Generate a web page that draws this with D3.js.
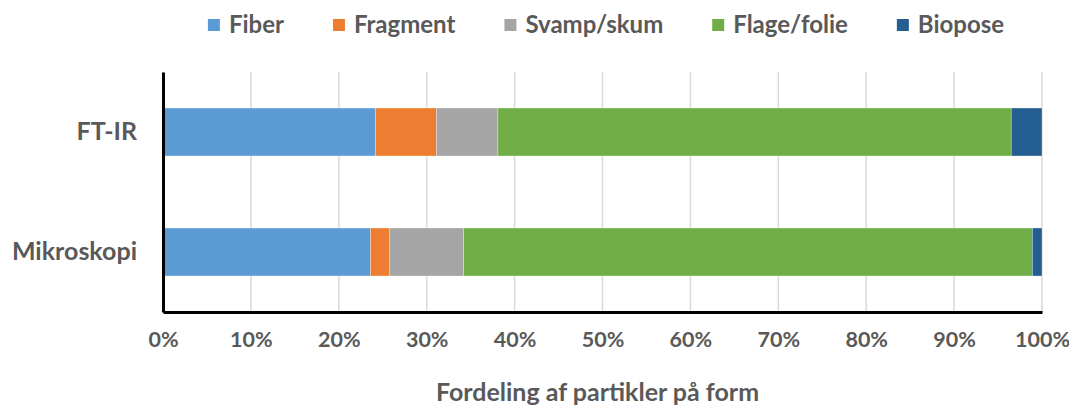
<!DOCTYPE html>
<html lang="en">
<head>
<meta charset="UTF-8">
<title>Fordeling af partikler på form</title>
<script src="https://d3js.org/d3.v7.min.js"></script>
<style>
    body { margin: 0; background: #fff; }
    text { font-family: 'Lato', 'Open Sans', sans-serif; font-weight: bold; fill: #595959; }
</style>
</head>
<body>
<div id="chart"></div>
<script>
    // Data (percent of particles)
    const categories = ["FT-IR", "Mikroskopi"];
    const seriesNames = ["Fiber", "Fragment", "Svamp/skum", "Flage/folie", "Biopose"];
    const seriesColors = ["#5b9bd5", "#ed7d31", "#a5a5a5", "#70ad47", "#255e91"];
    const fiber    = [24.2, 23.6];
    const fragment = [6.9, 2.2];
    const svamp    = [7.0, 8.4];
    const flage    = [58.4, 64.7];
    const biopose  = [3.5, 1.1];
    const xTicks = [0, 10, 20, 30, 40, 50, 60, 70, 80, 90, 100];
    const axisTitle = "Fordeling af partikler på form";

    const W = 1069, H = 406;
    const margin = {top: 72, right: 27, bottom: 94, left: 163};
    const width = W - margin.left - margin.right,
          height = H - margin.top - margin.bottom;

    const svg = d3.select("#chart").append("svg")
        .attr("width", W).attr("height", H);
    const g = svg.append("g")
        .attr("transform", `translate(${margin.left},${margin.top})`);

    // build table for stacking
    const seriesValues = [fiber, fragment, svamp, flage, biopose];
    const table = categories.map((c, i) => {
        const row = {cat: c};
        seriesNames.forEach((s, j) => row[s] = seriesValues[j][i]);
        return row;
    });
    const stacked = d3.stack().keys(seriesNames)(table);

    const x = d3.scaleLinear().domain([0, 100]).range([0, width]);
    const y = d3.scaleBand().domain(categories).range([0, height])
        .paddingInner(0.6).paddingOuter(0.3);
    const color = d3.scaleOrdinal().domain(seriesNames).range(seriesColors);

    // gridlines
    g.append("g")
        .selectAll("line")
        .data(xTicks)
        .join("line")
        .attr("x1", d => x(d)).attr("x2", d => x(d))
        .attr("y1", 0).attr("y2", height)
        .attr("stroke", "#d9d9d9")
        .attr("stroke-width", 1.5);

    // bars
    g.append("g")
        .selectAll("g")
        .data(stacked)
        .join("g")
        .attr("fill", d => color(d.key))
        .selectAll("rect")
        .data(d => d)
        .join("rect")
        .attr("x", d => x(d[0]))
        .attr("width", d => x(d[1]) - x(d[0]))
        .attr("y", d => y(d.data.cat))
        .attr("height", y.bandwidth())
        .attr("stroke", "#ffffff")
        .attr("stroke-opacity", 0.5)
        .attr("stroke-width", 0.6);

    // x axis
    const xAxis = g.append("g")
        .attr("transform", `translate(0,${height})`)
        .call(d3.axisBottom(x).tickValues(xTicks).tickFormat(d => d + "%").tickSize(0).tickPadding(20));
    xAxis.select(".domain").attr("stroke", "#000").attr("stroke-width", 3);
    xAxis.selectAll("text")
        .style("font-size", "21.5px")
        .attr("fill", "#595959");

    // y axis
    const yAxis = g.append("g")
        .call(d3.axisLeft(y).tickSize(0).tickPadding(26));
    yAxis.select(".domain").attr("stroke", "#000").attr("stroke-width", 3);
    yAxis.selectAll("text")
        .style("font-size", "25px")
        .attr("fill", "#595959");

    // axis title
    svg.append("text")
        .attr("x", margin.left + width / 2 - 5)
        .attr("y", 401)
        .attr("text-anchor", "middle")
        .style("font-size", "25px")
        .text(axisTitle);

    // legend
    const gap = 49;
    const legend = svg.append("g");
    let cursor = 0;
    seriesNames.forEach((name, i) => {
        const item = legend.append("g").attr("transform", `translate(${cursor},0)`);
        item.append("rect")
            .attr("x", 0).attr("y", -6)
            .attr("width", 12).attr("height", 12)
            .attr("fill", seriesColors[i]);
        const t = item.append("text")
            .attr("x", 21).attr("y", 0)
            .attr("dy", "0.35em")
            .style("font-size", "24px")
            .text(name);
        cursor += 21 + t.node().getComputedTextLength() + gap;
    });
    const legendWidth = cursor - gap;
    legend.attr("transform", `translate(${606 - legendWidth / 2},25)`);
</script>
</body>
</html>
